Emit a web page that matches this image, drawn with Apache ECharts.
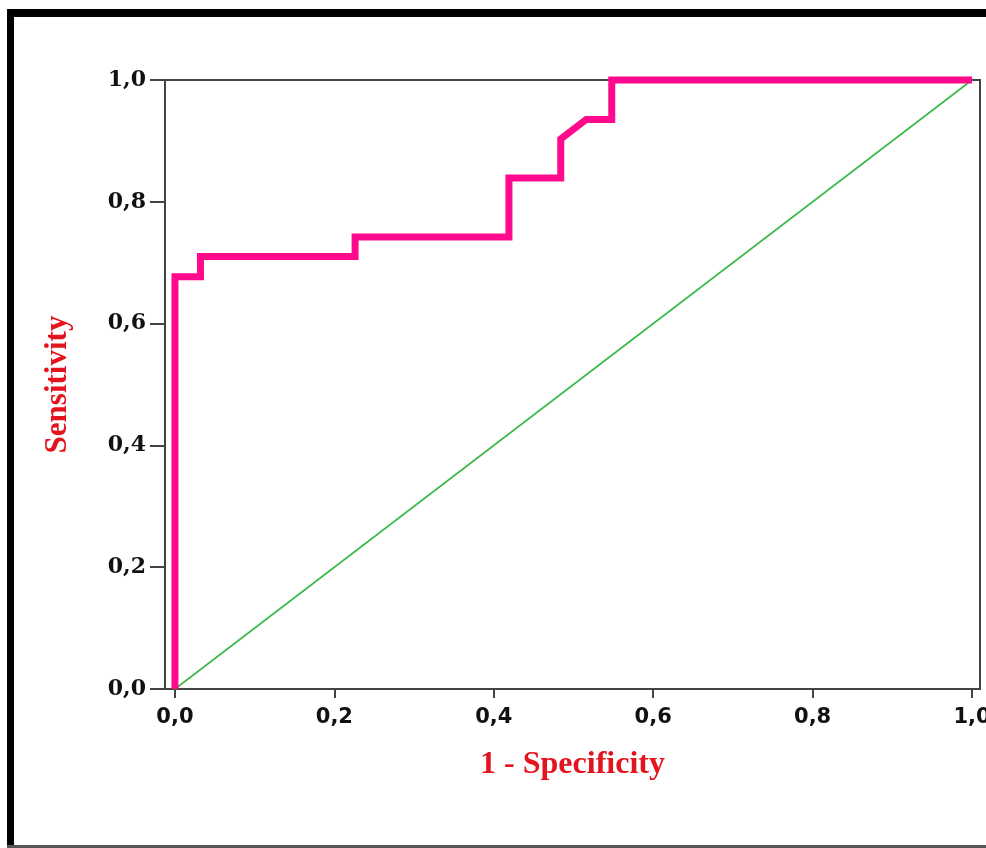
<!DOCTYPE html>
<html>
<head>
<meta charset="utf-8">
<script src="https://cdn.jsdelivr.net/npm/echarts@6/dist/echarts.min.js"></script>
<style>
html,body{margin:0;padding:0;background:#fff;}
#chart{width:986px;height:848px;}
</style>
</head>
<body>
<div id="chart"></div>
<script>
// ROC curve (1 - specificity, sensitivity)
const rocFpr = [0, 0, 0.032, 0.032, 0.226, 0.226, 0.419, 0.419, 0.484, 0.484, 0.516, 0.548, 0.548, 1.0];
const rocTpr = [0, 0.677, 0.677, 0.710, 0.710, 0.742, 0.742, 0.839, 0.839, 0.903, 0.935, 0.935, 1.0, 1.0];
const refFpr = [0, 1];
const refTpr = [0, 1];
const tickValues = [0, 0.2, 0.4, 0.6, 0.8, 1.0];
const xTitle = '1 - Specificity';
const yTitle = 'Sensitivity';

const fmt = v => Number(v).toFixed(1).replace('.', ',');
const rocData = rocFpr.map((x, i) => [x, rocTpr[i]]);
const refData = refFpr.map((x, i) => [x, refTpr[i]]);

const chart = echarts.init(document.getElementById('chart'));
chart.setOption({
  animation: false,
  backgroundColor: '#ffffff',
  grid: {
    left: 165, right: 6, top: 80, bottom: 159,
    outerBoundsMode: 'none', containLabel: false,
    show: true, borderColor: '#444', borderWidth: 2, backgroundColor: 'transparent'
  },
  graphic: [
    { type: 'rect', shape: { x: 7, y: 9, width: 979, height: 8 }, style: { fill: '#000' }, silent: true },
    { type: 'rect', shape: { x: 7, y: 9, width: 7, height: 838 }, style: { fill: '#000' }, silent: true },
    { type: 'rect', shape: { x: 7, y: 845, width: 979, height: 3 }, style: { fill: '#555' }, silent: true }
  ],
  xAxis: {
    type: 'value',
    min: -0.0125, max: 1.01,
    name: xTitle,
    nameLocation: 'middle',
    nameGap: 60,
    nameTextStyle: { color: '#e3141e', fontFamily: 'Liberation Serif', fontWeight: 'bold', fontSize: 32 },
    axisLine: { show: true, onZero: false, lineStyle: { color: '#444', width: 2 } },
    axisTick: { show: true, inside: false, length: 9, lineStyle: { color: '#444', width: 2 }, customValues: tickValues },
    axisLabel: {
      customValues: tickValues, formatter: fmt, margin: 18,
      color: '#111', fontFamily: 'DejaVu Sans', fontWeight: 'bold', fontSize: 21
    },
    splitLine: { show: false }
  },
  yAxis: {
    type: 'value',
    min: 0, max: 1, interval: 0.2,
    name: yTitle,
    nameLocation: 'middle',
    nameGap: 92,
    nameRotate: 90,
    nameTextStyle: { color: '#e3141e', fontFamily: 'Liberation Serif', fontWeight: 'bold', fontSize: 31 },
    axisLine: { show: true, onZero: false, lineStyle: { color: '#444', width: 2 } },
    axisTick: { show: true, inside: false, length: 15, lineStyle: { color: '#444', width: 2 } },
    axisLabel: {
      formatter: fmt, margin: 19,
      color: '#111', fontFamily: 'DejaVu Serif', fontWeight: 'bold', fontSize: 22
    },
    splitLine: { show: false }
  },
  series: [
    {
      type: 'line', data: refData, showSymbol: false, symbol: 'none', clip: false,
      lineStyle: { color: '#3cb84a', width: 1.6 }, z: 3
    },
    {
      type: 'line', data: rocData, showSymbol: false, symbol: 'none', clip: false,
      lineStyle: { color: '#ff0a8c', width: 7, join: 'miter' }, z: 4
    }
  ]
});
</script>
</body>
</html>
